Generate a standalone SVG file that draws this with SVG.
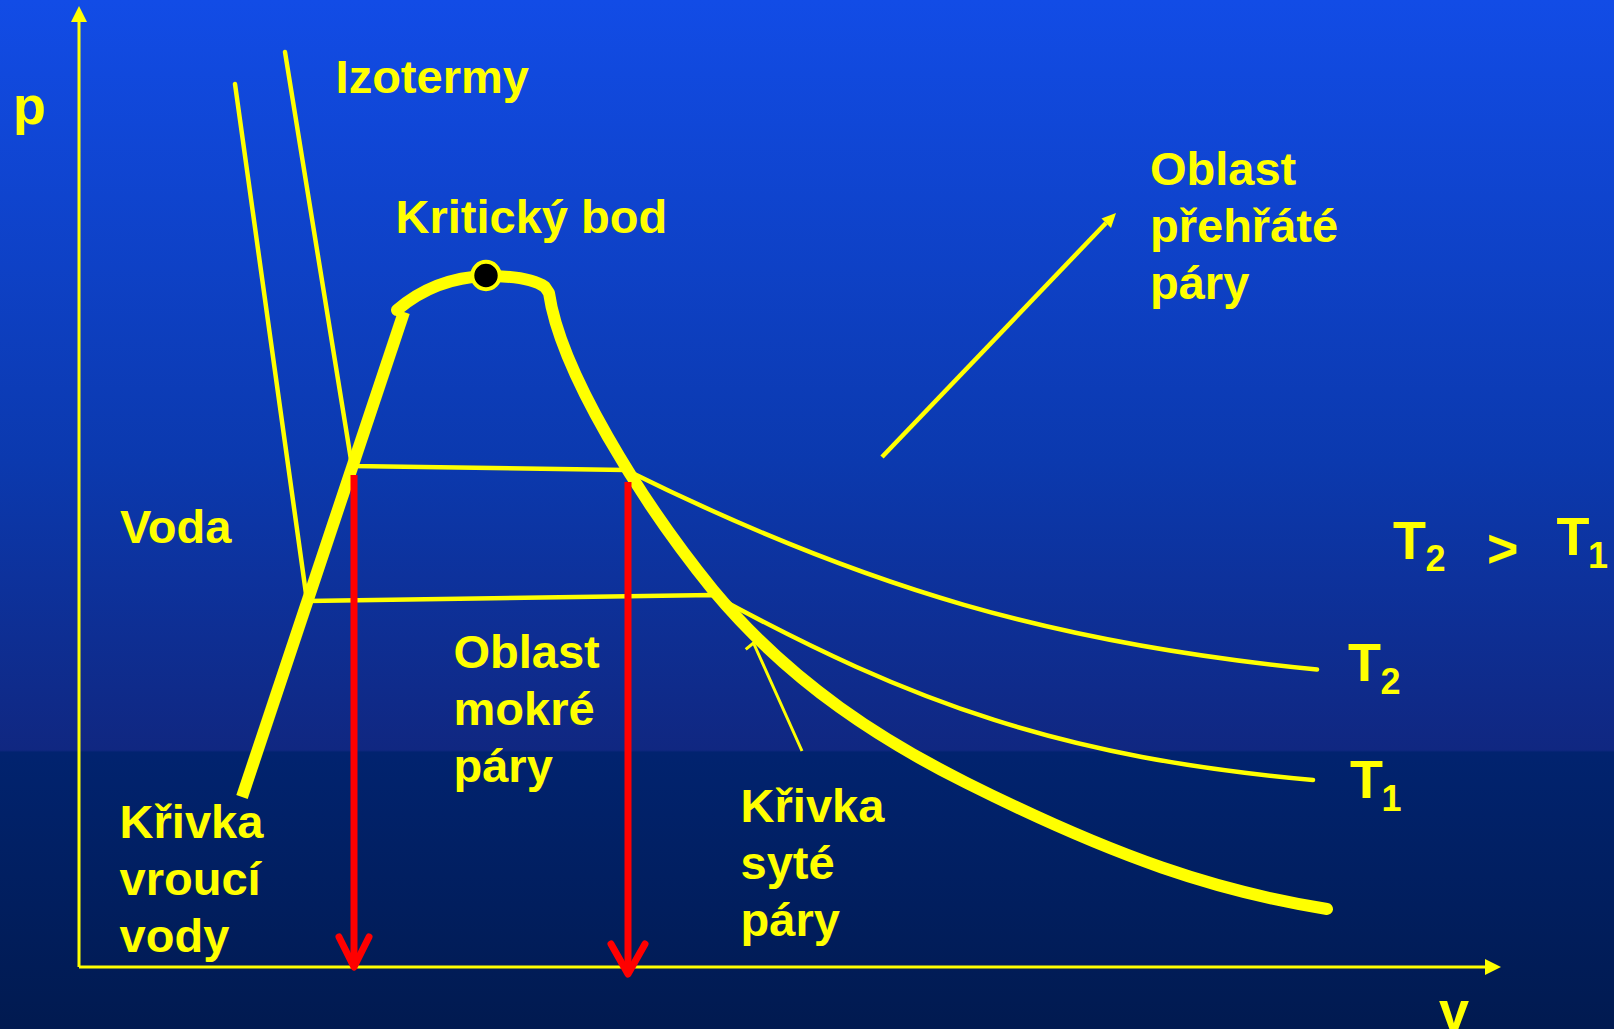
<svg xmlns="http://www.w3.org/2000/svg" width="1614" height="1029" viewBox="0 0 1614 1029">
<defs>
<linearGradient id="bg" x1="0" y1="0" x2="0" y2="1">
<stop offset="0" stop-color="#124CE6"/>
<stop offset="0.45" stop-color="#0B39AE"/>
<stop offset="0.729" stop-color="#102781"/>
<stop offset="0.731" stop-color="#01236F"/>
<stop offset="1" stop-color="#011A50"/>
</linearGradient>
<style>
.t{font-family:"Liberation Sans",Arial,sans-serif;font-weight:bold;fill:#FFFF00;font-size:47px}
.big{font-size:54px}
.sub{font-size:36px}
.axis{stroke:#FFFF00;stroke-width:3;fill:none}
.head{fill:#FFFF00;stroke:none}
.iso{stroke:#FFFF00;stroke-width:4.5;fill:none;stroke-linejoin:round}
.thin{stroke:#FFFF00;stroke-width:3;fill:none;stroke-linejoin:round}
.dome{stroke:#FFFF00;stroke-width:12;fill:none;stroke-linejoin:round}
.redl{stroke:#FF0000;stroke-width:7;fill:none}
.redh{stroke:#FF0000;stroke-width:7;fill:none;stroke-linecap:round;stroke-linejoin:round}
</style>
</defs>
<rect width="1614" height="1029" fill="url(#bg)"/>

<g id="axes">
<line class="axis" x1="79" y1="967" x2="79" y2="20"/>
<polygon class="head" points="79,6 71,22 87,22"/>
<line class="axis" x1="79" y1="967" x2="1488" y2="967"/>
<polygon class="head" points="1501,967 1485,959 1485,975"/>
</g>

<g id="connectors">
<path id="pointer-syte" class="thin" d="M802,751 L753.5,643 M745.7,649.3 L753.5,643 L763,641"/>
<path id="iso-T1" class="iso" stroke-linecap="round" d="M235,84 L307,601 L713,595 C913,704 1063,757.5 1313,780"/>
<path id="iso-T2" class="iso" stroke-linecap="round" d="M285,52 L352,466 L626,470 C866,589 1057,644 1317,669.5"/>
<path id="dome-left" class="dome" d="M242,797 L404,312"/>
<path id="dome-right" class="dome" stroke-linecap="round" d="M397,310 C424,287 455,277 486,276 C515,276 535,280 545,287 L549,293 C560,370 640,500 713,590 C793,686 886.7,743 966.7,783 C1116.7,858 1217,891.4 1327,909"/>
<path id="arrow-prehrate" class="iso" d="M882,457 L1106,223"/>
<polygon class="head" points="1116,213 1101.5,218.5 1111,228"/>
<line class="redl" x1="354" y1="475" x2="354" y2="964"/>
<path class="redh" d="M339,937 L354,967 L369,937"/>
<line class="redl" x1="628" y1="482" x2="628" y2="971"/>
<path class="redh" d="M611,944 L628,974 L645,944"/>
</g>

<g id="critical-point">
<circle cx="486" cy="275.5" r="13.7" fill="#000000" stroke="#FFFF00" stroke-width="4"/>
</g>

<g id="label-p"><text class="t big" x="13" y="124">p</text></g>
<g id="label-v"><text class="t big" x="1439" y="1029">v</text></g>
<g id="label-izotermy"><text class="t" x="335.6" y="93">Izotermy</text></g>
<g id="label-kriticky"><text class="t" x="395.5" y="233">Kritický bod</text></g>
<g id="label-prehrate">
<text class="t" x="1150" y="185">Oblast</text>
<text class="t" x="1150" y="242">přehřáté</text>
<text class="t" x="1150" y="299">páry</text>
</g>
<g id="label-voda"><text class="t" x="120" y="543">Voda</text></g>
<g id="label-mokre">
<text class="t" x="453.5" y="668">Oblast</text>
<text class="t" x="453.5" y="725">mokré</text>
<text class="t" x="453.5" y="782">páry</text>
</g>
<g id="label-vrouci">
<text class="t" x="119.6" y="838">Křivka</text>
<text class="t" x="119.6" y="895">vroucí</text>
<text class="t" x="119.6" y="952">vody</text>
</g>
<g id="label-syte">
<text class="t" x="740.6" y="822">Křivka</text>
<text class="t" x="740.6" y="879">syté</text>
<text class="t" x="740.6" y="936">páry</text>
</g>
<g id="label-compare">
<text class="t big" x="1393" y="559">T</text>
<text class="t sub" x="1425.5" y="571">2</text>
<text class="t big" x="1487" y="567">&gt;</text>
<text class="t big" x="1556.5" y="555">T</text>
<text class="t sub" x="1588" y="568">1</text>
</g>
<g id="label-T2">
<text class="t big" x="1348" y="681">T</text>
<text class="t sub" x="1380.5" y="694">2</text>
</g>
<g id="label-T1">
<text class="t big" x="1350" y="798">T</text>
<text class="t sub" x="1381.4" y="811">1</text>
</g>
</svg>
